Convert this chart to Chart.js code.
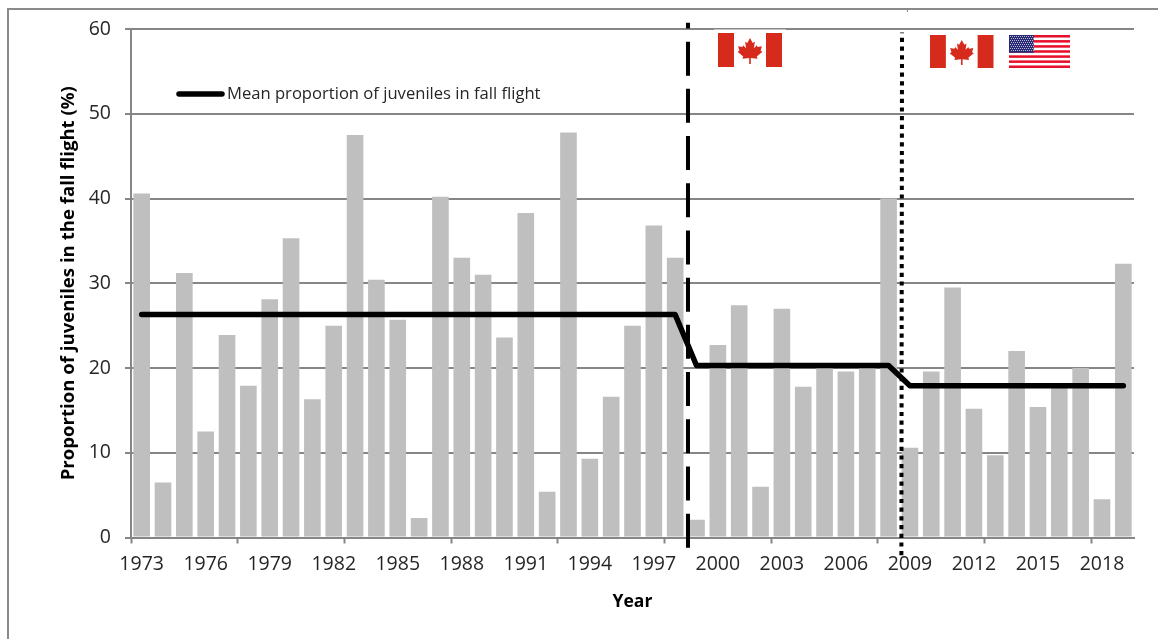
<!DOCTYPE html>
<html><head><meta charset="utf-8">
<style>
html,body{margin:0;padding:0;background:#fff;overflow:hidden}
#frame{position:absolute;left:7px;top:8px;width:1160px;height:640px;border:2px solid #8a8a8a;box-sizing:border-box}
#c{position:absolute;left:0;top:0}
</style>
<script src="https://cdn.jsdelivr.net/npm/chart.js@4/dist/chart.umd.min.js"></script>
</head><body>
<div id="frame"></div>
<canvas id="c" width="1158" height="639"></canvas>
<script>
const years = [1973,1974,1975,1976,1977,1978,1979,1980,1981,1982,1983,1984,1985,1986,1987,1988,1989,1990,1991,1992,1993,1994,1995,1996,1997,1998,1999,2000,2001,2002,2003,2004,2005,2006,2007,2008,2009,2010,2011,2012,2013,2014,2015,2016,2017,2018,2019];
const proportion = [40.6,6.5,31.2,12.5,23.9,17.9,28.1,35.3,16.3,25,47.5,30.4,25.7,2.3,40.2,33,31,23.6,38.3,5.4,47.8,9.3,16.6,25,36.8,33,2.1,22.7,27.4,6,27,17.8,20,19.6,20,40,10.6,19.6,29.5,15.2,9.7,22,15.4,18,20,4.5,32.3];
const meanProportion = [26.3,26.3,26.3,26.3,26.3,26.3,26.3,26.3,26.3,26.3,26.3,26.3,26.3,26.3,26.3,26.3,26.3,26.3,26.3,26.3,26.3,26.3,26.3,26.3,26.3,26.3,20.3,20.3,20.3,20.3,20.3,20.3,20.3,20.3,20.3,20.3,17.9,17.9,17.9,17.9,17.9,17.9,17.9,17.9,17.9,17.9,17.9];
const labelEvery = 3, tickEvery = 5;
const legendText = 'Mean proportion of juveniles in fall flight';
const yTitle = 'Proportion of juveniles in the fall flight (%)';
const xTitle = 'Year';
const FONT = '"Open Sans", sans-serif';
const GREY = '#868686';

const leaf = [[0,-1],[.2,-.62],[.36,-.72],[.29,-.22],[.5,-.44],[.56,-.3],[.88,-.36],[.78,-.02],[.92,.06],[.5,.42],[.56,.6],[.06,.54],[.06,1],[-.06,1],[-.06,.54],[-.56,.6],[-.5,.42],[-.92,.06],[-.78,-.02],[-.88,-.36],[-.56,-.3],[-.5,-.44],[-.29,-.22],[-.36,-.72],[-.2,-.62]];

function canada(ctx,x,y,w,h){
  ctx.fillStyle='#fff';ctx.fillRect(x,y,w,h);
  ctx.fillStyle='#d62b1c';
  ctx.fillRect(x,y,w/4,h);ctx.fillRect(x+w*.75,y,w/4,h);
  const cx=x+w/2,cy=y+h/2+1,r=h*.38;
  ctx.beginPath();
  leaf.forEach((p,i)=>{const a=cx+p[0]*r*1.05,b=cy+p[1]*r;i?ctx.lineTo(a,b):ctx.moveTo(a,b);});
  ctx.closePath();ctx.fill();
}
function usa(ctx,x,y,w,h){
  ctx.fillStyle='#fff';ctx.fillRect(x,y,w,h);
  const s=h/13;
  ctx.fillStyle='#e8112d';
  for(let i=0;i<13;i+=2)ctx.fillRect(x,y+i*s,w,s);
  const cw=w*.405,ch=s*7;
  ctx.fillStyle='#2a2a72';ctx.fillRect(x,y,cw,ch);
  ctx.fillStyle='#b9bbdc';
  for(let a=1;a<cw-1;a+=2)for(let b=1;b<ch-1;b+=2)ctx.fillRect(x+a+(b%4===1?0:1),y+b,1,1);
}

const overlay = {
  id:'overlay',
  afterDatasetsDraw(chart){
    const {ctx,scales:{x,y}}=chart;
    ctx.save();
    ctx.strokeStyle='#000';
    ctx.lineWidth=4;ctx.setLineDash([34,13.2]);
    ctx.beginPath();ctx.moveTo(x.getPixelForValue(25.6),y.getPixelForValue(-1.2));ctx.lineTo(x.getPixelForValue(25.6),y.getPixelForValue(60.75));ctx.stroke();
    ctx.lineWidth=4;ctx.setLineDash([4.2,4.5]);
    ctx.beginPath();ctx.moveTo(x.getPixelForValue(35.6),y.getPixelForValue(-2.1));ctx.lineTo(x.getPixelForValue(35.63),y.getPixelForValue(59.6));ctx.stroke();
    ctx.setLineDash([]);
    ctx.fillStyle='#fff';ctx.fillRect(714,29.5,72,8);
    canada(ctx,718,33,64,34);
    canada(ctx,930,35,63.5,33);
    usa(ctx,1009,35,61,33);
    ctx.strokeStyle='#000';ctx.lineWidth=5.5;ctx.lineCap='round';
    ctx.beginPath();ctx.moveTo(179,94);ctx.lineTo(222,94);ctx.stroke();
    ctx.fillStyle='#262626';ctx.font='16.6px '+FONT;ctx.textAlign='left';ctx.textBaseline='middle';
    ctx.fillText(legendText,227,94);
    ctx.fillStyle='#8a8a8a';ctx.fillRect(907,8,1,4);
    ctx.restore();
  }
};

new Chart(document.getElementById('c'),{
  data:{labels:years,datasets:[
    {type:'line',label:legendText,data:meanProportion,borderColor:'#000',borderWidth:5.5,pointRadius:0,tension:0,borderCapStyle:'round',borderJoinStyle:'round',order:0},
    {type:'bar',label:'Proportion of juveniles',data:proportion,backgroundColor:'#bfbfbf',barPercentage:0.78,categoryPercentage:1,order:1}
  ]},
  options:{
    responsive:false,animation:false,
    layout:{padding:{left:58,right:24,top:29,bottom:26}},
    plugins:{legend:{display:false},tooltip:{enabled:false}},
    scales:{
      x:{type:'category',offset:true,
        afterFit(s){s.height=75.5;},
        border:{color:GREY,width:2},
        grid:{offset:true,drawOnChartArea:false,drawTicks:true,tickLength:6,
          tickColor:c=>(c.index%tickEvery===0?GREY:'transparent'),tickWidth:2},
        ticks:{autoSkip:false,maxRotation:0,minRotation:0,padding:9,color:'#262626',font:{family:FONT,size:19.5},
          callback(v,i){return i%labelEvery===0?this.getLabelForValue(v):'';}},
        title:{display:true,text:xTitle,color:'#000',font:{family:FONT,size:17.5,weight:'bold'},padding:0}
      },
      y:{min:0,max:60,
        afterFit(s){s.width=73;},
        border:{color:GREY,width:2},
        grid:{color:GREY,lineWidth:2,tickLength:6,drawTicks:true},
        ticks:{stepSize:10,padding:14,color:'#262626',font:{family:FONT,size:19.5}},
        title:{display:true,text:yTitle,color:'#000',font:{family:FONT,size:18.6,weight:'bold'},padding:0}
      }
    }
  },
  plugins:[overlay]
});
</script>
</body></html>
